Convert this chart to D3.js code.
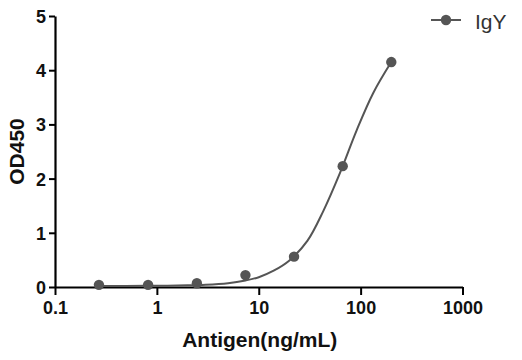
<!DOCTYPE html>
<html>
<head>
<meta charset="utf-8">
<script src="https://cdn.jsdelivr.net/npm/d3@7"></script>
<style>
  html, body { margin: 0; padding: 0; background: #fff; }
  svg { display: block; }
</style>
</head>
<body>
<svg id="chart" width="522" height="360"></svg>
<script>
// ---- data ----
const concentrations = [0.27, 0.82, 2.47, 7.4, 22.2, 66.7, 200];
const odValues = [0.04, 0.04, 0.07, 0.22, 0.56, 2.23, 4.15];
// fitted curve
const curveX = [0.27, 0.5, 1, 2, 3, 5, 7.4, 10, 14, 20, 30, 43, 62.6, 91.4, 133, 200];
const curveY = [0.02, 0.02, 0.023, 0.03, 0.04, 0.07, 0.12, 0.18, 0.30, 0.49, 0.85, 1.40, 2.10, 2.89, 3.58, 4.15];
const xTicks = [0.1, 1, 10, 100, 1000];
const xTickLabels = ["0.1", "1", "10", "100", "1000"];
const yTicks = [0, 1, 2, 3, 4, 5];
const seriesName = "IgY";
const xTitle = "Antigen(ng/mL)";
const yTitle = "OD450";

// ---- layout ----
const svg = d3.select("#chart");
const x = d3.scaleLog().domain([0.1, 1000]).range([55, 462.5]);
const y = d3.scaleLinear().domain([0, 5]).range([287, 16]);
const font = "'Liberation Sans', Arial, Helvetica, sans-serif";
const markColor = "#555555";

// curve
const line = d3.line()
  .x((d, i) => x(curveX[i]))
  .y((d, i) => y(curveY[i]))
  .curve(d3.curveCatmullRom.alpha(0.5));

// axes
const xAxis = d3.axisBottom(x)
  .tickValues(xTicks)
  .tickFormat((d, i) => xTickLabels[i])
  .tickSizeInner(8).tickSizeOuter(0).tickPadding(6);
const yAxis = d3.axisLeft(y)
  .tickValues(yTicks)
  .tickFormat(d3.format("d"))
  .tickSizeInner(6).tickSizeOuter(0).tickPadding(3);

const gx = svg.append("g").attr("transform", `translate(0,${y(0)})`).call(xAxis);
const gy = svg.append("g").attr("transform", `translate(${x(0.1)},0)`).call(yAxis);
[gx, gy].forEach(g => {
  g.select(".domain").attr("stroke", "#000").attr("stroke-width", 2.2);
  g.selectAll(".tick line").attr("stroke", "#000").attr("stroke-width", 2);
  g.selectAll(".tick text")
    .attr("fill", "#111")
    .style("font-family", font)
    .style("font-weight", "bold")
    .style("font-size", "18px");
});
gy.selectAll(".tick text").attr("dy", "0.36em");

svg.append("path")
  .datum(curveX)
  .attr("d", line)
  .attr("fill", "none")
  .attr("stroke", markColor)
  .attr("stroke-width", 2);

svg.append("g").selectAll("circle")
  .data(concentrations)
  .join("circle")
  .attr("cx", d => x(d))
  .attr("cy", (d, i) => y(odValues[i]))
  .attr("r", 5.2)
  .attr("fill", markColor);

// axis titles
svg.append("text")
  .attr("x", (x(0.1) + x(1000)) / 2 + 1)
  .attr("y", 346.5)
  .attr("text-anchor", "middle")
  .style("font-family", font)
  .style("font-weight", "bold")
  .style("font-size", "21px")
  .attr("fill", "#111")
  .text(xTitle);

svg.append("text")
  .attr("transform", `translate(24,${(y(0) + y(5)) / 2}) rotate(-90)`)
  .attr("text-anchor", "middle")
  .style("font-family", font)
  .style("font-weight", "bold")
  .style("font-size", "21px")
  .attr("fill", "#111")
  .text(yTitle);

// legend
const lg = svg.append("g");
lg.append("line")
  .attr("x1", 431).attr("x2", 461).attr("y1", 20).attr("y2", 20)
  .attr("stroke", markColor).attr("stroke-width", 2);
lg.append("circle").attr("cx", 446).attr("cy", 20).attr("r", 5.2).attr("fill", markColor);
lg.append("text")
  .attr("x", 475).attr("y", 28.5)
  .style("font-family", font)
  .style("font-size", "21px")
  .attr("fill", "#333")
  .text(seriesName);
</script>
</body>
</html>
